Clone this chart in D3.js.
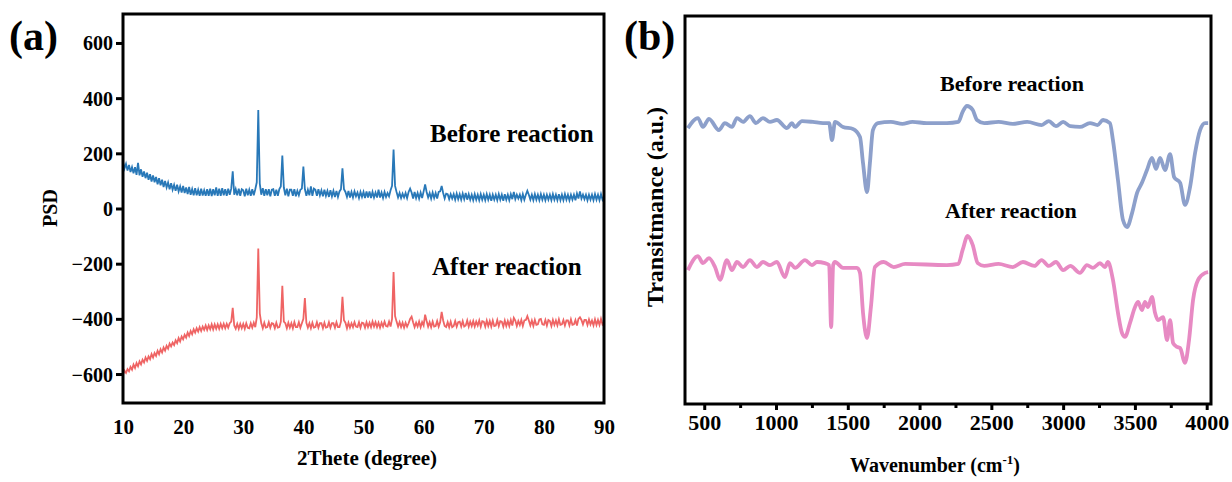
<!DOCTYPE html>
<html>
<head>
<meta charset="utf-8">
<script src="https://cdn.jsdelivr.net/npm/d3@7"></script>
<style>
  body { margin: 0; background: #fff; }
  svg text { font-family: "Liberation Serif", "Times New Roman", serif; font-weight: bold; fill: #000; }
</style>
</head>
<body>
<svg id="chart" width="1232" height="482"></svg>
<script>
// ---- (a) XRD, 2theta from 10 to 90 in 0.25 degree steps ----
const xrdStart = 10, xrdStep = 0.25;
const xrdTicks = [10, 20, 30, 40, 50, 60, 70, 80, 90];
const psdTicks = [-600, -400, -200, 0, 200, 400, 600];

const xrdBefore = [
  170,145,162,138, 158,132,150,128, 150,122,165,120, 142,115,134,110, 130,104,124,98,
  120,95,114,88, 110,84,104,78, 100,76,94,70, 92,68,86,64, 86,62,80,58,
  82,56,76,52, 78,50,70,48, 74,48,68,46, 72,47,66,46, 70,46,72,45,
  70,48,76,46, 72,46,74,48, 70,46,72,50, 72,135,50,70, 48,72,46,70,
  66,44,72,48, 68,46,70,48, 70,95,357,90, 50,74,46,70, 48,70,44,68,
  70,46,68,46, 70,80,192,76, 48,72,44,68, 68,46,70,44, 64,48,68,72,
  152,70,46,68, 48,80,46,72, 68,46,70,48, 66,44,68,46, 64,42,66,44,
  64,42,64,42, 62,70,146,70, 60,42,64,40, 60,40,62,44, 58,38,60,42,
  60,38,62,40, 62,38,60,40, 58,40,68,40, 58,38,60,42, 56,44,66,82,
  214,82,60,40, 56,38,54,40, 56,38,60,72, 58,36,60,38, 56,36,58,38,
  62,87,60,40, 56,36,58,38, 56,36,60,62, 82,56,36,54, 52,34,52,36,
  52,32,54,34, 52,32,54,34, 56,32,52,32, 50,30,52,32, 50,30,52,32,
  50,30,52,32, 50,28,50,32, 50,30,52,32, 50,28,52,32, 50,30,52,34,
  60,34,50,36, 50,30,52,32, 50,64,50,32, 50,30,52,32, 50,30,52,32,
  50,30,50,32, 50,30,52,32, 50,30,52,30, 50,30,52,32, 50,30,50,32,
  50,30,54,36, 62,36,50,34, 50,30,50,32, 50,30,52,32, 50,30,52,32,
  44
];

const xrdAfter = [
  -602,-588,-596,-582, -590,-574,-584,-566, -578,-560,-572,-554, -565,-548,-558,-540, -552,-536,-546,-528,
  -540,-524,-534,-516, -528,-510,-522,-504, -515,-498,-508,-490, -500,-486,-495,-478, -488,-470,-482,-464,
  -474,-458,-468,-450, -462,-444,-456,-438, -450,-434,-446,-430, -444,-428,-440,-424, -440,-424,-438,-420,
  -438,-420,-436,-420, -436,-418,-434,-418, -434,-418,-432,-416, -410,-360,-424,-436, -418,-436,-418,-434,
  -418,-436,-416,-432, -434,-416,-432,-414, -430,-395,-145,-380, -416,-434,-414,-432, -430,-412,-432,-416,
  -418,-434,-414,-432, -430,-410,-280,-410, -416,-434,-414,-432, -416,-434,-412,-430, -430,-412,-432,-416,
  -400,-325,-414,-432, -416,-434,-414,-432, -430,-412,-432,-416, -416,-434,-414,-432, -430,-412,-432,-416,
  -416,-432,-412,-430, -430,-410,-320,-405, -414,-434,-414,-432, -416,-430,-412,-428, -430,-412,-432,-414,
  -416,-432,-412,-430, -414,-430,-410,-428, -412,-430,-414,-432, -414,-428,-410,-426, -428,-410,-428,-400,
  -230,-390,-410,-428, -412,-430,-414,-432, -414,-428,-416,-400, -392,-412,-430,-414, -428,-410,-430,-412,
  -424,-385,-408,-428, -412,-430,-410,-428, -426,-408,-428,-412, -375,-406,-426,-430, -412,-430,-410,-430,
  -426,-408,-428,-412, -410,-428,-408,-428, -424,-406,-428,-410, -426,-408,-428,-410, -424,-406,-428,-408,
  -410,-428,-406,-426, -408,-428,-406,-426, -424,-404,-426,-408, -410,-428,-406,-426, -408,-426,-404,-424,
  -396,-406,-426,-408, -422,-404,-426,-406, -404,-390,-406,-424, -406,-426,-404,-422, -420,-402,-400,-420,
  -422,-404,-424,-404, -408,-426,-404,-422, -406,-424,-402,-422, -420,-404,-424,-406, -406,-424,-402,-422,
  -420,-404,-424,-400, -394,-404,-420,-404, -404,-422,-402,-420, -406,-424,-402,-422, -404,-422,-400,-420,
  -412
];

// ---- (b) FTIR, transmittance in arbitrary units ----
const wnTicks = [500, 1000, 1500, 2000, 2500, 3000, 3500, 4000];
const wnMinorTicks = [750, 1250, 1750, 2250, 2750, 3250, 3750];

const ftirBeforeWn = [386,456,491,533,602,644,693,728,770,818,860,909,958,1006,1076,1111,1132,1181,1257,1327,
  1370,1390,1411,1467,1536,1585,1606,1634,1654,1675,1710,1800,1880,1950,2050,2190,2270,2300,2330,2370,
  2400,2450,2550,2650,2750,2850,2900,2950,3000,3050,3117,3187,3240,3278,3326,3347,3382,3417,3445,3480,
  3515,3549,3584,3619,3647,3675,3710,3745,3773,3815,3849,3884,3919,3954,3989,4010];
const ftirBefore = [71.1,73.7,71.4,73.5,70.6,72.4,71.4,73.7,72.7,74.2,72.4,73.7,72.7,73.2,71.1,72.4,71.4,72.9,72.7,72.4,
  72.4,68.0,72.7,71.4,70.9,68.8,62.1,54.6,62.1,70.6,72.4,72.7,72.2,72.7,72.4,72.4,72.7,75.3,76.8,75.8,
  73.2,72.4,72.7,72.2,72.7,71.9,72.9,71.6,72.7,71.6,71.4,72.4,71.9,73.2,72.4,68.0,57.7,47.4,45.6,49.2,
  54.4,57.0,60.3,63.4,60.6,63.4,60.3,64.4,58.5,57.0,51.3,55.9,64.7,70.6,72.4,72.4];

const ftirAfterWn = [386,456,491,533,575,610,658,693,728,770,818,867,909,958,1006,1062,1097,1132,1202,1250,
  1285,1340,1370,1384,1398,1411,1467,1564,1585,1606,1634,1661,1689,1750,1820,1900,2190,2270,2300,2335,
  2370,2405,2450,2550,2650,2720,2800,2850,2900,2950,3000,3050,3117,3166,3208,3257,3291,3312,3347,3382,
  3410,3431,3466,3501,3522,3549,3570,3591,3619,3640,3661,3696,3724,3745,3766,3794,3815,3849,3877,3905,
  3940,3989,4010];
const ftirAfter = [34.5,38.1,36.3,37.6,35.3,32.0,37.1,34.5,36.6,35.3,37.1,35.3,36.6,35.8,36.6,32.7,36.3,35.1,37.1,35.8,
  36.6,36.3,35.8,19.8,35.8,36.6,35.1,35.1,33.8,23.5,17.0,25.0,35.3,36.6,35.3,36.1,35.8,36.1,39.7,43.3,
  41.0,36.3,35.6,36.1,35.3,36.6,35.6,37.1,35.6,36.6,34.5,35.6,33.8,35.8,35.1,36.3,35.3,36.6,32.0,23.5,
  18.3,17.3,20.9,25.0,26.3,24.2,26.3,25.0,27.6,23.5,21.6,22.4,16.5,21.6,15.7,14.7,14.4,10.6,16.5,26.8,
  32.0,33.8,34.0];

const svg = d3.select("#chart");

// panel letters
svg.append("text").attr("x", 9).attr("y", 50).style("font-size", "42px").text("(a)");
svg.append("text").attr("x", 624).attr("y", 50).style("font-size", "42px").text("(b)");

// ================= panel (a) =================
const xa = d3.scaleLinear().domain([10, 90]).range([123, 604]);
const ya = d3.scaleLinear().domain([-705, 705]).range([403, 14]);
const ga = svg.append("g");

const angle = xrdBefore.map((d, i) => xrdStart + i * xrdStep);
const lineA = d3.line().x(d => xa(d[0])).y(d => ya(d[1]));

ga.append("path")
  .datum(angle.map((a, i) => [a, xrdBefore[i]]))
  .attr("d", lineA)
  .attr("fill", "none")
  .attr("stroke", "#2878b8")
  .attr("stroke-width", 1.8);

ga.append("path")
  .datum(angle.map((a, i) => [a, xrdAfter[i]]))
  .attr("d", lineA)
  .attr("fill", "none")
  .attr("stroke", "#ef6464")
  .attr("stroke-width", 1.8);

// y axis
const yAxisA = ga.append("g")
  .attr("transform", "translate(123,0)")
  .call(d3.axisLeft(ya).tickValues(psdTicks).tickSize(7).tickPadding(3));
yAxisA.select(".domain").remove();
yAxisA.selectAll("line").attr("stroke-width", 3);
yAxisA.selectAll("text").style("font-size", "20px").attr("dy", "0.35em");

// x axis labels
const xAxisA = ga.append("g")
  .attr("transform", "translate(0,403)")
  .call(d3.axisBottom(xa).tickValues(xrdTicks).tickSize(0).tickPadding(16));
xAxisA.select(".domain").remove();
xAxisA.selectAll("text").style("font-size", "21px");

// frame
ga.append("rect")
  .attr("x", 123).attr("y", 14).attr("width", 481).attr("height", 389)
  .attr("fill", "none").attr("stroke", "#000").attr("stroke-width", 3);

ga.append("text").attr("x", 430).attr("y", 142).style("font-size", "25px").text("Before reaction");
ga.append("text").attr("x", 432).attr("y", 275).style("font-size", "25px").text("After reaction");

ga.append("text")
  .attr("text-anchor", "middle")
  .attr("x", 367).attr("y", 465)
  .style("font-size", "21px")
  .text("2Thete (degree)");

ga.append("text")
  .attr("text-anchor", "middle")
  .attr("transform", "translate(57,208) rotate(-90)")
  .style("font-size", "20px")
  .text("PSD");

// ================= panel (b) =================
const xb = d3.scaleLinear().domain([366, 4030]).range([685, 1211]);
const yb = d3.scaleLinear().domain([0, 100]).range([404, 16]);
const gb = svg.append("g");

const lineB = d3.line().x(d => xb(d[0])).y(d => yb(d[1])).curve(d3.curveMonotoneX);

gb.append("path")
  .datum(ftirBeforeWn.map((w, i) => [w, ftirBefore[i]]))
  .attr("d", lineB)
  .attr("fill", "none")
  .attr("stroke", "#8da0cb")
  .attr("stroke-width", 3.8)
  .attr("stroke-linejoin", "round");

gb.append("path")
  .datum(ftirAfterWn.map((w, i) => [w, ftirAfter[i]]))
  .attr("d", lineB)
  .attr("fill", "none")
  .attr("stroke", "#e78ac3")
  .attr("stroke-width", 3.8)
  .attr("stroke-linejoin", "round");

// x axis with minor ticks
const xAxisB = gb.append("g")
  .attr("transform", "translate(0,404)")
  .call(d3.axisBottom(xb).tickValues(wnTicks).tickSize(6).tickPadding(4).tickFormat(d3.format("d")));
xAxisB.select(".domain").remove();
xAxisB.selectAll("line").attr("stroke-width", 3);
xAxisB.selectAll("text").style("font-size", "22px");

const xMinorB = gb.append("g")
  .attr("transform", "translate(0,404)")
  .call(d3.axisBottom(xb).tickValues(wnMinorTicks).tickSize(4).tickFormat(""));
xMinorB.select(".domain").remove();
xMinorB.selectAll("line").attr("stroke-width", 3);

gb.append("rect")
  .attr("x", 685).attr("y", 16).attr("width", 526).attr("height", 388)
  .attr("fill", "none").attr("stroke", "#000").attr("stroke-width", 3);

gb.append("text").attr("x", 940).attr("y", 91).style("font-size", "22px").text("Before reaction");
gb.append("text").attr("x", 945).attr("y", 218).style("font-size", "22px").text("After reaction");

const wnLabel = gb.append("text")
  .attr("text-anchor", "middle")
  .attr("x", 935).attr("y", 472)
  .style("font-size", "20px");
wnLabel.append("tspan").text("Wavenumber (cm");
wnLabel.append("tspan").attr("dy", -8).style("font-size", "13px").text("-1");
wnLabel.append("tspan").attr("dy", 8).text(")");

gb.append("text")
  .attr("text-anchor", "middle")
  .attr("transform", "translate(663,207) rotate(-90)")
  .style("font-size", "24px")
  .text("Transitmance (a.u.)");
</script>
</body>
</html>
